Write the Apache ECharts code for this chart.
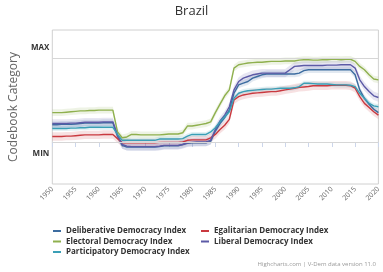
<!DOCTYPE html>
<html>
<head>
<meta charset="utf-8">
<script src="https://cdn.jsdelivr.net/npm/echarts@6/dist/echarts.min.js"></script>
<style>
html, body { margin: 0; padding: 0; background: #fff; }
#main { width: 383px; height: 272px; }
</style>
</head>
<body>
<div id="main"></div>
<script>
// V-Dem indices for Brazil, one value per year from 1950 to 2020
var firstYear = 1950;
var lastYear = 2020;

var deliberative = [
    0.205, 0.205, 0.21, 0.21, 0.21, 0.215, 0.22, 0.225, 0.225, 0.225,
    0.225, 0.23, 0.23, 0.23, 0.07, -0.04, -0.06, -0.06, -0.06, -0.06,
    -0.06, -0.06, -0.06, -0.055, -0.045, -0.045, -0.045, -0.045, -0.03, -0.015,
    -0.01, -0.01, -0.01, -0.01, 0.01, 0.13, 0.22, 0.29, 0.38, 0.58,
    0.68, 0.7, 0.72, 0.76, 0.78, 0.8, 0.81, 0.81, 0.81, 0.81,
    0.81, 0.81, 0.81, 0.82, 0.85, 0.86, 0.86, 0.86, 0.86, 0.86,
    0.86, 0.86, 0.86, 0.86, 0.86, 0.8, 0.62, 0.52, 0.45, 0.39, 0.35
];
var egalitarian = [
    0.065, 0.065, 0.065, 0.07, 0.07, 0.075, 0.08, 0.085, 0.085, 0.085,
    0.085, 0.09, 0.09, 0.09, 0.04, -0.01, -0.01, -0.01, -0.01, -0.01,
    -0.01, -0.01, -0.01, -0.005, -0.005, -0.005, -0.005, -0.005, 0, 0.02,
    0.025, 0.025, 0.025, 0.025, 0.05, 0.09, 0.15, 0.2, 0.27, 0.5,
    0.54, 0.56, 0.57, 0.58, 0.585, 0.59, 0.595, 0.6, 0.6, 0.61,
    0.62, 0.63, 0.64, 0.65, 0.655, 0.66, 0.67, 0.67, 0.67, 0.67,
    0.675, 0.675, 0.675, 0.675, 0.67, 0.64, 0.54, 0.46, 0.41, 0.36, 0.32
];
var electoral = [
    0.35, 0.35, 0.35, 0.355, 0.36, 0.365, 0.37, 0.37, 0.375, 0.375,
    0.38, 0.38, 0.38, 0.38, 0.12, 0.05, 0.06, 0.09, 0.09, 0.085,
    0.085, 0.085, 0.085, 0.085, 0.09, 0.095, 0.095, 0.095, 0.11, 0.19,
    0.19, 0.2, 0.21, 0.22, 0.24, 0.35, 0.45, 0.55, 0.62, 0.88,
    0.92, 0.93, 0.94, 0.945, 0.95, 0.95, 0.955, 0.96, 0.96, 0.96,
    0.965, 0.965, 0.965, 0.975, 0.98, 0.98, 0.975, 0.975, 0.98, 0.98,
    0.985, 0.985, 0.98, 0.985, 0.985, 0.96, 0.9, 0.86, 0.8, 0.75, 0.74
];
var liberal = [
    0.22, 0.22, 0.22, 0.22, 0.225, 0.225, 0.23, 0.235, 0.235, 0.235,
    0.235, 0.24, 0.24, 0.24, 0.08, -0.03, -0.05, -0.055, -0.055, -0.055,
    -0.055, -0.055, -0.055, -0.05, -0.04, -0.04, -0.04, -0.04, -0.03, -0.01,
    -0.005, 0, 0, 0, 0.02, 0.15, 0.25, 0.32, 0.42, 0.62,
    0.72, 0.76, 0.78, 0.8, 0.81, 0.82, 0.82, 0.82, 0.82, 0.82,
    0.82, 0.86, 0.9, 0.905, 0.91, 0.91, 0.91, 0.91, 0.91, 0.915,
    0.915, 0.915, 0.92, 0.92, 0.92, 0.88, 0.74, 0.66, 0.6, 0.55, 0.53
];
var participatory = [
    0.16, 0.16, 0.16, 0.16, 0.165, 0.165, 0.17, 0.17, 0.175, 0.175,
    0.175, 0.175, 0.175, 0.175, 0.09, 0.02, 0.02, 0.02, 0.02, 0.02,
    0.02, 0.02, 0.02, 0.035, 0.035, 0.035, 0.035, 0.035, 0.04, 0.07,
    0.09, 0.09, 0.09, 0.09, 0.12, 0.17, 0.24, 0.3, 0.36, 0.52,
    0.58, 0.6, 0.61, 0.615, 0.62, 0.625, 0.63, 0.63, 0.635, 0.64,
    0.64, 0.64, 0.645, 0.66, 0.7, 0.7, 0.695, 0.69, 0.69, 0.69,
    0.685, 0.68, 0.68, 0.68, 0.675, 0.66, 0.58, 0.52, 0.46, 0.43, 0.42
];

var seriesNames = [
    'Deliberative Democracy Index',
    'Egalitarian Democracy Index',
    'Electoral Democracy Index',
    'Liberal Democracy Index',
    'Participatory Democracy Index'
];
var seriesValues = [deliberative, egalitarian, electoral, liberal, participatory];
var seriesColors = ['#3c6ca0', '#c9393f', '#8fb04e', '#5c5aa6', '#3a9fb6'];
// half width of the uncertainty band around each index
var bandHalf = [0.04, 0.05, 0.04, 0.05, 0.03];

var yLabels = { min: 'MIN', max: 'MAX' };
var credits = 'Highcharts.com | V-Dem data version 11.0';

var years = [];
for (var y = firstYear; y <= lastYear; y++) years.push(String(y));

var myChart = echarts.init(document.getElementById('main'));

var series = [];
seriesNames.forEach(function (name, i) {
    var vals = seriesValues[i];
    var h = bandHalf[i];
    series.push({
        name: 'low' + i,
        type: 'line',
        stack: 'band' + i,
        stackStrategy: 'all',
        data: vals.map(function (v) { return v - h; }),
        symbol: 'none',
        lineStyle: { width: 0 },
        silent: true,
        z: 1
    });
    series.push({
        name: 'band' + i,
        type: 'line',
        stack: 'band' + i,
        stackStrategy: 'all',
        data: vals.map(function () { return 2 * h; }),
        symbol: 'none',
        lineStyle: { width: 0 },
        areaStyle: { color: seriesColors[i], opacity: 0.15 },
        silent: true,
        z: 1
    });
});
seriesNames.forEach(function (name, i) {
    var s = {
        name: name,
        type: 'line',
        data: seriesValues[i],
        symbol: 'none',
        color: seriesColors[i],
        lineStyle: { width: 1.4, color: seriesColors[i] },
        z: 3
    };
    if (i === 0) {
        s.markLine = {
            silent: true,
            symbol: 'none',
            label: { show: false },
            lineStyle: { color: '#d6d6d6', type: 'solid', width: 1 },
            data: [{ yAxis: 0 }, { yAxis: 1 }]
        };
    }
    series.push(s);
});

var legendText = { fontSize: 8, fontWeight: 'bold', color: '#333', fontFamily: 'Open Sans' };

var option = {
    animation: false,
    textStyle: { fontFamily: 'Open Sans' },
    title: [
        {
            text: 'Brazil',
            left: 'center',
            top: 0,
            textStyle: { fontSize: 13, fontWeight: 'normal', color: '#333' }
        },
        {
            text: credits,
            right: 2,
            bottom: 0,
            textStyle: { fontSize: 6, fontWeight: 'normal', color: '#999' }
        }
    ],
    legend: [
        {
            orient: 'vertical',
            left: 48,
            top: 222,
            itemGap: 2.5,
            itemWidth: 8,
            itemHeight: 2,
            icon: 'rect',
            textStyle: legendText,
            data: [seriesNames[0], seriesNames[2], seriesNames[4]]
        },
        {
            orient: 'vertical',
            left: 196,
            top: 222,
            itemGap: 2.5,
            itemWidth: 8,
            itemHeight: 2,
            icon: 'rect',
            textStyle: legendText,
            data: [seriesNames[1], seriesNames[3]]
        }
    ],
    grid: {
        left: 40,
        right: 3,
        top: 30,
        bottom: 88,
        show: true,
        borderColor: '#d0d0d0',
        borderWidth: 1
    },
    xAxis: {
        type: 'category',
        data: years,
        boundaryGap: false,
        axisLine: { lineStyle: { color: '#ccd6eb' } },
        axisTick: { show: true, length: 5, interval: 4, lineStyle: { color: '#ccd6eb' } },
        splitLine: { show: false },
        axisLabel: { rotate: 45, fontSize: 7, color: '#666', margin: 4, interval: 4 }
    },
    yAxis: {
        type: 'value',
        min: -0.5,
        max: 4 / 3,
        interval: 0.5,
        name: 'Codebook Category',
        nameLocation: 'middle',
        nameGap: 31,
        nameTextStyle: { fontSize: 12, color: '#666' },
        axisLine: { show: false },
        axisTick: { show: false },
        splitLine: { show: false },
        axisLabel: {
            margin: 3,
            formatter: function (v) {
                if (Math.abs(v) < 1e-6) return '{min|' + yLabels.min + '}';
                if (Math.abs(v - 1) < 1e-6) return '{max|' + yLabels.max + '}';
                return '';
            },
            rich: {
                min: { fontSize: 8, fontWeight: 'bold', color: '#333', padding: [24, 0, 0, 0] },
                max: { fontSize: 8, fontWeight: 'bold', color: '#333', padding: [0, 0, 20, 0] }
            }
        }
    },
    series: series
};
myChart.setOption(option);
</script>
</body>
</html>
